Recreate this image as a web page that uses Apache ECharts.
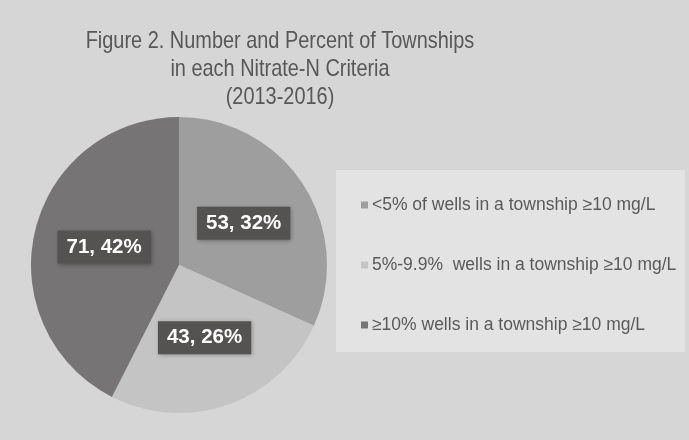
<!DOCTYPE html>
<html><head><meta charset="utf-8">
<script src="https://cdn.jsdelivr.net/npm/echarts@6/dist/echarts.min.js"></script>
<style>html,body{margin:0;padding:0;background:#d6d6d6;}#c{width:689px;height:440px;}</style>
</head><body><div id="c"></div>
<script>
const titleLines = ['Figure 2. Number and Percent of Townships', 'in each Nitrate-N Criteria', '(2013-2016)'];
const categories = ['<5% of wells in a township \u226510 mg/L', '5%-9.9%  wells in a township \u226510 mg/L', '\u226510% wells in a township \u226510 mg/L'];
const counts = [53, 43, 71];
const percentLabels = ['32%', '26%', '42%'];
const sliceColors = ['#9e9e9e', '#c4c4c4', '#767474'];

const chart = echarts.init(document.getElementById('c'));
chart.setOption({
  backgroundColor: '#d6d6d6',
  animation: false,
  graphic: [
    { type: 'rect', z: -1, shape: { x: 336, y: 170, width: 349, height: 182 }, style: { fill: '#e3e3e3' } },
    { type: 'text', x: 280, y: 27, scaleX: 0.83, scaleY: 1,
      style: { text: titleLines.join('\n'), fontFamily: 'Liberation Sans, Arial', fontSize: 24, fill: '#585858',
               lineHeight: 28, align: 'center', verticalAlign: 'top' } }
  ],
  legend: {
    orient: 'vertical', left: 356, top: 191, itemGap: 42,
    icon: 'rect', itemWidth: 7, itemHeight: 7,
    textStyle: { fontFamily: 'Liberation Sans, Arial', fontSize: 17.5, color: '#5a5a5a', padding: [0,0,0,-1] },
    data: categories
  },
  series: [{
    type: 'pie', center: [179, 265], radius: 148, startAngle: 90, clockwise: true,
    data: categories.map((n, i) => ({ name: n, value: counts[i], itemStyle: { color: sliceColors[i] } })),
    label: {
      show: true, position: 'inside',
      formatter: p => counts[p.dataIndex] + ', ' + percentLabels[p.dataIndex],
      color: '#ffffff', fontFamily: 'Liberation Sans, Arial', fontWeight: 'bold', fontSize: 20.5,
      backgroundColor: '#555252', padding: [7, 9, 5, 9],
      shadowColor: 'rgba(0,0,0,0.3)', shadowBlur: 4, shadowOffsetX: 1, shadowOffsetY: 1
    },
    labelLine: { show: false },
    emphasis: { disabled: true }
  }]
});
</script></body></html>
